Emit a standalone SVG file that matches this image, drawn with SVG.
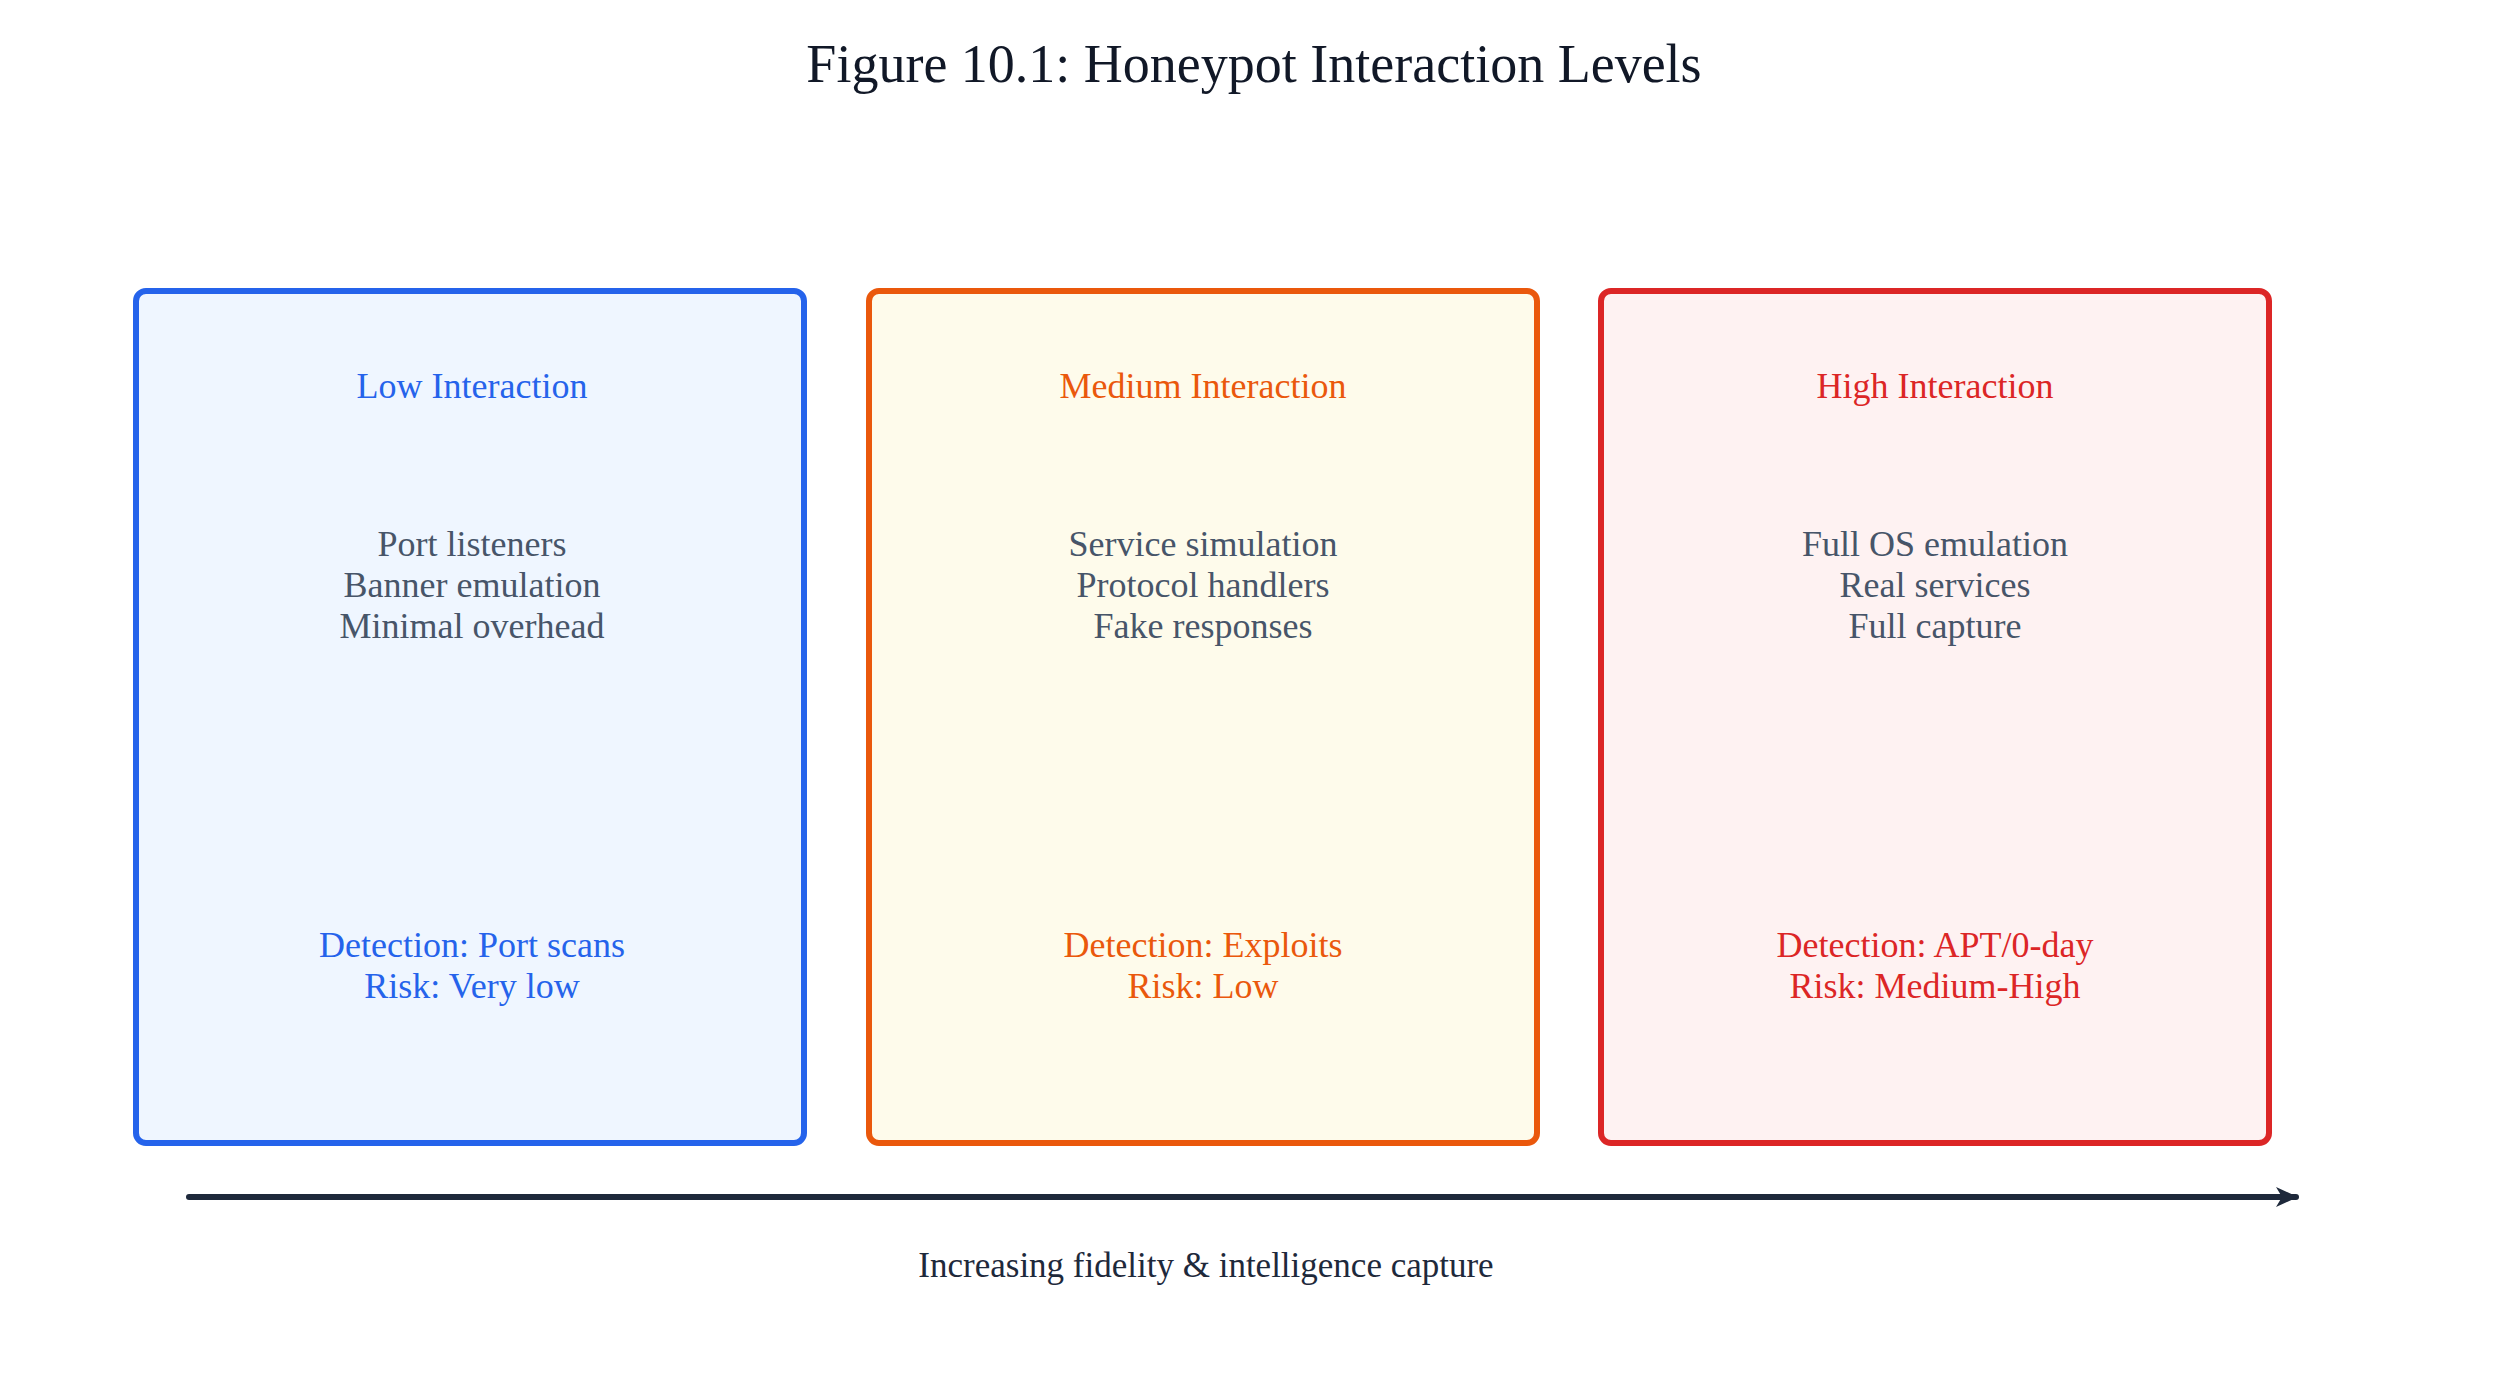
<svg xmlns="http://www.w3.org/2000/svg" width="2500" height="1381" viewBox="0 0 2500 1381">
<style>
text{font-family:"Liberation Serif",serif;text-anchor:middle}
.t{font-size:54px;fill:#111827}
.h{font-size:36px}
.b{font-size:36px;fill:#475569}
.box{stroke-width:6}
</style>
<defs><marker id="ah" markerWidth="26" markerHeight="24" refX="22" refY="12" orient="auto" markerUnits="userSpaceOnUse" viewBox="0 0 26 24"><path d="M2,2 L24,12 L2,22 L8,12 z" fill="#1e293b"/></marker></defs>
<rect width="2500" height="1381" fill="#fff"/>
<text class="t" x="1254" y="82">Figure 10.1: Honeypot Interaction Levels</text>
<g id="low">
<rect class="box" x="136" y="291" width="668" height="852" rx="10" fill="#eff6ff" stroke="#2563eb"/>
<text class="h" x="472" y="398" fill="#2563eb">Low Interaction</text>
<text class="b" x="472" y="556">Port listeners</text>
<text class="b" x="472" y="597">Banner emulation</text>
<text class="b" x="472" y="638">Minimal overhead</text>
<text class="h" x="472" y="957" fill="#2563eb">Detection: Port scans</text>
<text class="h" x="472" y="998" fill="#2563eb">Risk: Very low</text>
</g>
<g id="medium">
<rect class="box" x="869" y="291" width="668" height="852" rx="10" fill="#fefbeb" stroke="#ea580c"/>
<text class="h" x="1203" y="398" fill="#ea580c">Medium Interaction</text>
<text class="b" x="1203" y="556">Service simulation</text>
<text class="b" x="1203" y="597">Protocol handlers</text>
<text class="b" x="1203" y="638">Fake responses</text>
<text class="h" x="1203" y="957" fill="#ea580c">Detection: Exploits</text>
<text class="h" x="1203" y="998" fill="#ea580c">Risk: Low</text>
</g>
<g id="high">
<rect class="box" x="1601" y="291" width="668" height="852" rx="10" fill="#fef2f2" stroke="#dc2626"/>
<text class="h" x="1935" y="398" fill="#dc2626">High Interaction</text>
<text class="b" x="1935" y="556">Full OS emulation</text>
<text class="b" x="1935" y="597">Real services</text>
<text class="b" x="1935" y="638">Full capture</text>
<text class="h" x="1935" y="957" fill="#dc2626">Detection: APT/0-day</text>
<text class="h" x="1935" y="998" fill="#dc2626">Risk: Medium-High</text>
</g>
<g id="connectors">
<line x1="189" y1="1197" x2="2296" y2="1197" stroke="#1e293b" stroke-width="6" stroke-linecap="round" marker-end="url(#ah)"/>
<text x="1206" y="1277" style="font-size:35px;fill:#1e293b">Increasing fidelity &amp; intelligence capture</text>
</g>
</svg>
